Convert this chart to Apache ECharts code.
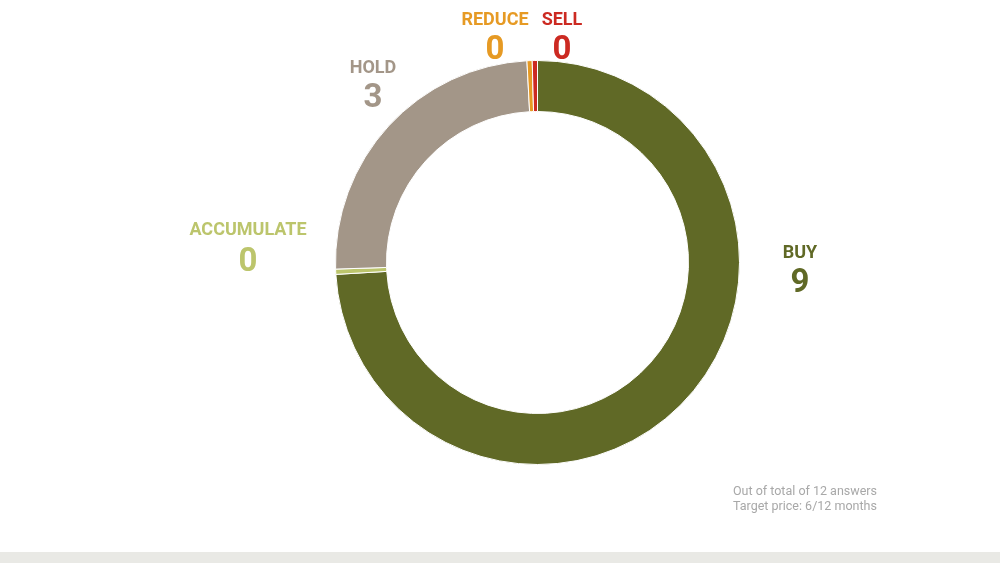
<!DOCTYPE html>
<html>
<head>
<meta charset="utf-8">
<script src="https://cdn.jsdelivr.net/npm/echarts@6/dist/echarts.min.js"></script>
<style>
  html, body { margin: 0; padding: 0; background: #ffffff; }
  #chart { width: 1000px; height: 563px; }
</style>
</head>
<body>
<div id="chart"></div>
<script>
// ---- data ----
var categories = ['BUY', 'ACCUMULATE', 'HOLD', 'REDUCE', 'SELL'];
var answers = [9, 0, 3, 0, 0];
var totalAnswers = 12;
var targetPrice = '6/12 months';

// ---- styles / layout (kept apart from data) ----
var colors = {
  BUY: '#606926',
  ACCUMULATE: '#bcc56c',
  HOLD: '#a39688',
  REDUCE: '#e69a24',
  SELL: '#cc2a22'
};
var labelPos = {
  BUY: [800, 270],
  ACCUMULATE: [248, 249],
  HOLD: [373, 85],
  REDUCE: [495, 37],
  SELL: [562, 37]
};

var chart = echarts.init(document.getElementById('chart'));

var seriesData = categories.map(function (c, i) {
  return {
    name: c,
    value: answers[i],
    itemStyle: { color: colors[c] },
    label: {
      rich: {
        n: { fontFamily: 'Roboto', fontSize: 18, fontWeight: 'bold', color: colors[c], lineHeight: 28, align: 'center' },
        v: { fontFamily: 'Roboto', fontSize: 33, fontWeight: 'bold', color: colors[c], lineHeight: c === 'ACCUMULATE' ? 38 : 34, align: 'center' }
      }
    }
  };
});

chart.setOption({
  backgroundColor: '#ffffff',
  animation: false,
  title: {
    text: 'Out of total of ' + totalAnswers + ' answers\nTarget price: ' + targetPrice,
    left: 728,
    top: 479,
    textStyle: {
      fontFamily: 'Roboto',
      fontSize: 12.5,
      fontWeight: 'normal',
      color: '#a8a8a8',
      lineHeight: 15
    }
  },
  graphic: [{
    type: 'rect',
    left: 0,
    top: 552,
    shape: { width: 1000, height: 11 },
    style: { fill: '#e9e9e5' },
    silent: true
  }],
  series: [{
    type: 'pie',
    center: [537.5, 262.5],
    radius: [151, 202],
    startAngle: 90,
    clockwise: true,
    minAngle: 1.5,
    avoidLabelOverlap: false,
    silent: true,
    itemStyle: { borderColor: '#ffffff', borderWidth: 1 },
    label: {
      show: true,
      position: 'outside',
      formatter: function (p) { return '{n|' + p.name + '}\n{v|' + p.value + '}'; }
    },
    labelLine: { show: false },
    labelLayout: function (params) {
      var name = categories[params.dataIndex];
      var pos = labelPos[name];
      return { x: pos[0], y: pos[1], align: 'center', verticalAlign: 'middle', hideOverlap: false };
    },
    emphasis: { disabled: true },
    data: seriesData
  }]
});
</script>
</body>
</html>
